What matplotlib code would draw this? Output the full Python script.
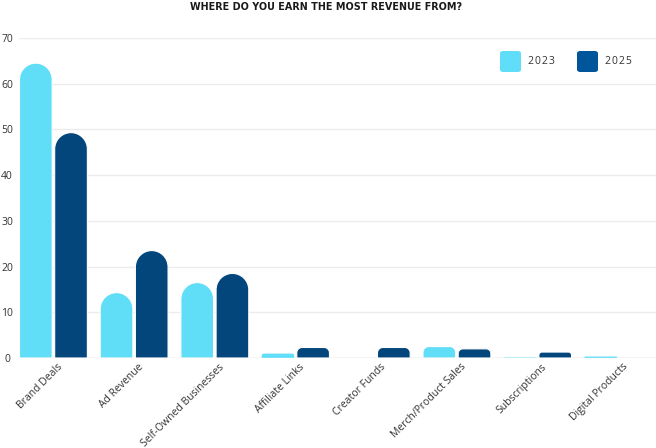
import numpy as np
import matplotlib.pyplot as plt
import matplotlib.transforms as mtransforms
from matplotlib.path import Path
from matplotlib.patches import PathPatch, FancyBboxPatch

plt.rcParams['font.family'] = ['Open Sans', 'DejaVu Sans']

# data
categories = ['Brand Deals', 'Ad Revenue', 'Self-Owned Businesses', 'Affiliate Links',
              'Creator Funds', 'Merch/Product Sales', 'Subscriptions', 'Digital Products']
series_labels = ['2023', '2025']
values_2023 = [64.5, 14.3, 16.5, 1.0, 0.0, 2.5, 0.15, 0.35]
values_2025 = [49.3, 23.5, 18.5, 2.3, 2.3, 2.0, 1.3, 0.0]
y_ticks = [0, 10, 20, 30, 40, 50, 60, 70]
title = 'WHERE DO YOU EARN THE MOST REVENUE FROM?'

bar_colors = ['#60ddf7', '#03467b']
legend_colors = ['#60ddf8', '#01559a']

W, H = 656, 448
fig = plt.figure(figsize=(W / 100, H / 100), dpi=100)
fig.patch.set_facecolor('white')

# axes box in pixels: x 19..656, y 38..358
ax_l, ax_r, ax_t, ax_b = 19, 656, 38, 358
ax = fig.add_axes([ax_l / W, 1 - ax_b / H, (ax_r - ax_l) / W, (ax_b - ax_t) / H])

cat_px = 80.7
first_px = 13.0
x0 = -0.5 + (ax_l - first_px) / cat_px
x1 = -0.5 + (ax_r - first_px) / cat_px
ax.set_xlim(x0, x1)
ax.set_ylim(0, 70)

sx = (ax_r - ax_l) / (x1 - x0)   # px per x unit
sy = (ax_b - ax_t) / 70.0        # px per y unit

x = np.arange(len(categories))
bw = 0.405
offs = [-0.217, 0.219]


def rounded_bar(left, w, h):
    r_px = min(w * sx / 2, h * sy / 2)
    rx, ry = r_px / sx, r_px / sy
    k = 0.5523
    right = left + w
    verts = [
        (left, 0), (left, h - ry),
        (left, h - ry + k * ry), (left + rx - k * rx, h), (left + rx, h),
        (right - rx, h),
        (right - rx + k * rx, h), (right, h - ry + k * ry), (right, h - ry),
        (right, 0), (left, 0),
    ]
    codes = [Path.MOVETO, Path.LINETO,
             Path.CURVE4, Path.CURVE4, Path.CURVE4,
             Path.LINETO,
             Path.CURVE4, Path.CURVE4, Path.CURVE4,
             Path.LINETO, Path.CLOSEPOLY]
    return Path(verts, codes)


for vals, off, col in zip([values_2023, values_2025], offs, bar_colors):
    bars = ax.bar(x + off, vals, width=bw, color=col)
    for rect in bars:
        h = rect.get_height()
        rect.set_visible(False)
        if h <= 0:
            continue
        p = rounded_bar(rect.get_x(), rect.get_width(), h)
        lw = 0.8 if h > 1 else 0.2
        ax.add_patch(PathPatch(p, facecolor=col, edgecolor='white', lw=lw, zorder=3))

# grid / axes styling
ax.set_yticks(y_ticks)
ax.yaxis.grid(True, color='#ececec', lw=1)
ax.set_axisbelow(True)
for s in ax.spines.values():
    s.set_visible(False)
ax.axhline(0, color='#dcdcdc', lw=1, zorder=2)
ax.tick_params(length=0)
ax.tick_params(axis='y', pad=8.6, labelsize=7.5, labelcolor='#333333')
for lbl in ax.get_yticklabels():
    lbl.set_ha('center')

ax.set_xticks(x)
ax.set_xticklabels(categories, rotation=45, ha='right', rotation_mode='anchor',
                   fontsize=7.5, color='#333333')
ax.tick_params(axis='x', pad=0)
shift = mtransforms.ScaledTranslation(4 / 100, -3.5 / 100, fig.dpi_scale_trans)
for lbl in ax.get_xticklabels():
    lbl.set_transform(lbl.get_transform() + shift)

# title
fig.text(326 / W, 1 - 7.5 / H, title, ha='center', va='center', fontsize=6.95,
         fontweight='bold', color='#1a1a1a', family='DejaVu Sans')

# legend
leg_x = [500, 577]
for lx, lab, col in zip(leg_x, series_labels, legend_colors):
    box = FancyBboxPatch((lx / W, 1 - 72 / H), 21 / W, 21 / H,
                         boxstyle='round,pad=0,rounding_size=0.005',
                         transform=fig.transFigure, facecolor=col, edgecolor='none')
    fig.patches.append(box)
    fig.text((lx + 28) / W, 1 - 61.5 / H, '\u200a'.join(lab), ha='left', va='center',
             fontsize=7.5, color='#333333')

fig.savefig('out.png', dpi=100, facecolor='white')
